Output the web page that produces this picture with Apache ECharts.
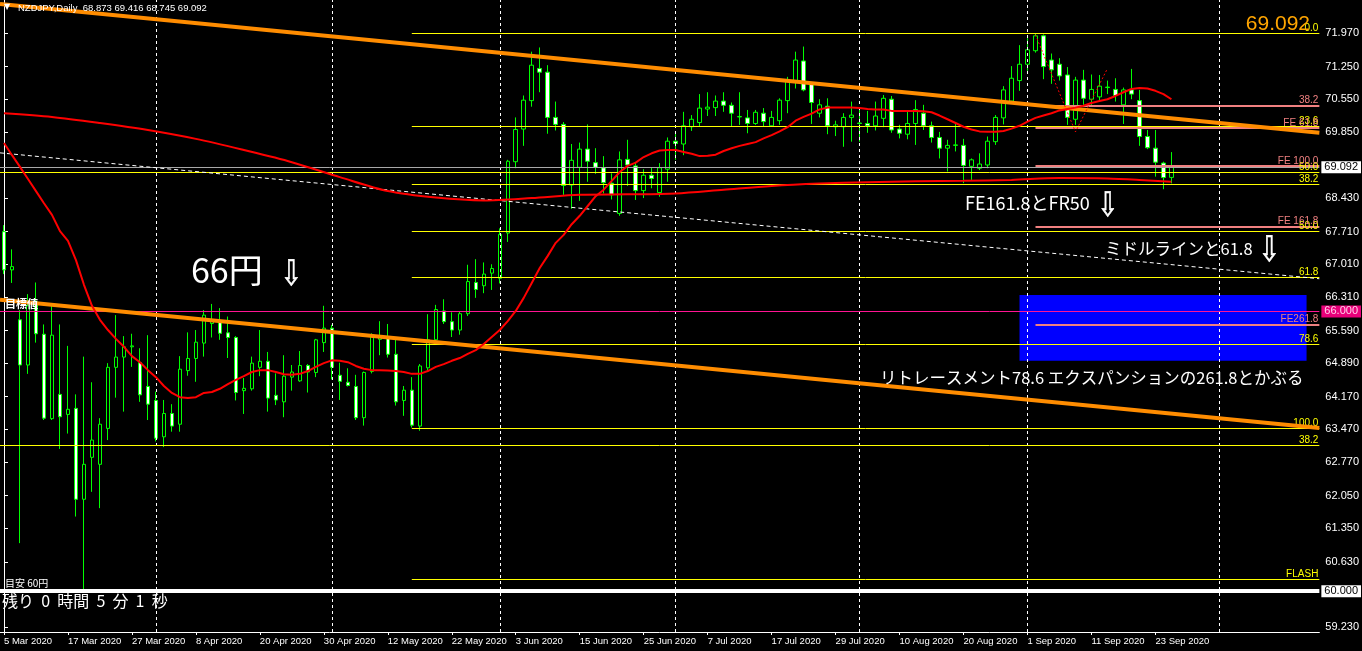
<!DOCTYPE html>
<html><head><meta charset="utf-8">
<script src="https://cdn.jsdelivr.net/npm/echarts@6/dist/echarts.min.js"></script>
<style>html,body{margin:0;padding:0;background:#000;overflow:hidden}#c{width:1362px;height:651px}</style>
</head><body><div id="c"></div>
<script>
// ---------- data ----------
const symbolTitle = 'NZDJPY,Daily';
const tickLabels = ['5 Mar 2020','17 Mar 2020','27 Mar 2020','8 Apr 2020','20 Apr 2020','30 Apr 2020','12 May 2020','22 May 2020','3 Jun 2020','15 Jun 2020','25 Jun 2020','7 Jul 2020','17 Jul 2020','29 Jul 2020','10 Aug 2020','20 Aug 2020','1 Sep 2020','11 Sep 2020','23 Sep 2020'];
const labelEvery = 8;
const totalSlots = 165;
const monthStartBars = [19,41,62,84,107,128,152];
const yTicks = [71.970,71.250,70.550,69.850,68.430,67.710,67.010,66.310,65.590,64.890,64.170,63.470,62.770,62.050,61.350,60.630,59.230];

const open = [67.71,66.89,65.82,64.85,66.21,65.51,63.70,64.22,63.79,63.92,
61.97,62.87,62.72,63.49,64.80,65.02,65.24,64.90,64.39,64.09,
63.31,63.81,63.58,64.73,64.99,65.32,65.74,65.76,65.54,65.44,
64.30,64.34,64.80,64.93,64.20,64.06,64.59,64.51,64.84,64.69,
65.33,65.64,64.63,64.48,64.39,63.72,64.71,65.40,65.44,65.08,
64.09,64.31,63.54,64.79,65.39,66.01,65.78,65.60,65.95,66.62,
66.55,66.82,66.71,67.68,69.21,69.91,70.52,71.21,71.13,70.16,
70.01,68.71,69.09,69.48,69.19,69.08,68.75,68.10,69.26,69.12,
68.59,68.92,68.55,69.05,69.65,69.59,69.96,70.05,70.34,70.37,
70.51,70.42,70.17,70.15,70.03,70.25,69.98,70.09,70.52,70.93,
71.37,70.88,70.25,70.40,69.96,69.96,70.16,70.04,70.03,69.98,
70.14,70.55,69.91,69.80,70.03,70.25,69.98,69.73,69.50,69.56,
69.56,69.11,69.07,69.14,69.64,70.15,70.51,70.95,71.30,71.59,
71.91,71.39,71.30,71.07,70.12,70.96,70.55,70.60,70.80,70.76,
70.43,70.75,70.52,69.75,69.50,69.18,68.873];
const high = [67.85,67.33,66.03,66.37,66.62,65.72,66.17,65.72,65.26,64.22,
65.03,64.48,63.71,64.89,65.92,65.47,65.52,65.21,65.49,64.28,
64.10,64.01,65.04,65.55,65.60,66.03,66.16,66.07,65.89,65.47,
64.57,65.03,65.60,65.13,64.67,65.06,64.85,65.15,64.87,65.41,
66.12,65.71,64.90,64.78,64.64,64.71,65.53,65.79,65.73,65.44,
64.40,64.59,64.87,65.94,66.14,66.26,65.98,66.00,67.00,67.12,
67.05,67.01,67.78,69.25,70.16,70.63,71.57,71.66,71.28,70.50,
70.06,69.59,69.62,70.01,69.50,69.33,68.96,69.43,69.68,69.19,
69.05,69.08,69.18,69.73,69.85,70.28,70.21,70.66,70.70,70.63,
70.70,70.48,70.70,70.32,70.32,70.36,70.30,70.57,71.03,71.57,
71.68,70.89,70.55,70.57,70.09,70.25,70.50,70.32,70.30,70.50,
70.64,70.62,70.00,70.28,70.53,70.43,70.07,69.85,69.68,70.05,
69.70,69.28,69.39,69.75,70.21,70.83,71.26,71.71,71.86,71.96,
71.94,71.53,71.43,71.24,71.03,71.18,71.08,71.07,70.95,71.00,
70.80,71.20,70.75,69.89,69.89,69.21,69.416];
const low = [66.80,66.61,61.03,64.66,65.33,63.67,63.67,63.05,63.38,61.60,
60.03,62.13,61.78,63.24,64.15,63.85,64.81,64.06,63.67,63.21,
63.09,63.42,63.42,64.62,64.49,65.03,65.44,65.39,65.00,64.09,
63.80,64.30,64.61,63.85,63.99,63.73,64.30,64.49,64.26,64.59,
65.13,64.54,64.10,64.39,63.67,63.55,64.67,65.06,65.01,63.98,
63.76,63.51,63.44,64.71,65.28,65.73,65.45,65.50,65.90,66.29,
66.39,66.46,66.60,67.49,69.07,69.55,70.39,70.70,69.81,69.88,
68.50,68.20,68.37,68.78,68.95,68.53,68.40,68.05,68.69,68.39,
68.43,68.64,68.46,68.78,69.25,69.35,69.87,69.96,70.19,70.19,
70.28,69.96,70.00,69.82,70.00,69.96,69.96,70.00,70.25,70.78,
70.72,70.02,70.16,69.80,69.76,69.53,69.64,69.64,69.83,69.88,
69.95,69.83,69.71,69.69,69.57,69.89,69.62,69.28,69.00,69.43,
68.75,68.82,69.03,69.07,69.57,70.01,70.50,70.73,71.16,71.55,
70.98,70.88,70.95,70.00,70.00,70.43,70.43,70.50,70.66,70.50,
70.02,70.55,69.55,69.48,68.89,68.62,68.745];
const close = [66.89,66.96,64.85,66.12,65.52,63.71,65.49,63.74,63.90,61.97,
62.72,63.24,63.58,64.80,65.02,65.24,65.26,64.21,64.01,63.28,
63.81,63.54,64.76,64.99,65.34,65.92,65.78,65.53,65.44,64.26,
64.35,64.89,64.93,64.14,64.10,64.61,64.70,64.84,64.70,65.39,
65.64,64.80,64.50,64.41,63.72,64.69,65.46,65.46,65.08,64.06,
64.31,63.56,64.83,65.39,66.04,65.78,65.60,65.95,66.64,66.47,
66.80,66.92,67.65,69.22,69.90,70.53,71.28,71.13,70.16,70.01,
68.70,69.24,69.48,69.22,69.09,68.76,68.50,69.25,69.14,68.59,
68.92,68.85,69.08,69.65,69.60,69.98,70.12,70.36,70.38,70.51,
70.42,70.25,70.18,70.03,70.27,70.07,70.16,70.53,70.95,71.39,
70.75,70.48,70.43,69.98,70.00,70.16,70.21,70.03,69.98,70.19,
70.57,69.89,69.82,70.03,70.33,69.98,69.73,69.50,69.56,69.57,
69.13,69.25,69.16,69.65,70.16,70.75,71.00,71.30,71.61,71.91,
71.25,71.18,71.05,70.16,70.96,70.57,70.76,70.83,70.81,70.63,
70.75,70.66,69.75,69.51,69.20,68.87,69.092];
const fastMA = [69.61,69.35,69.10,68.84,68.58,68.32,68.07,67.72,67.51,67.10,
66.57,66.12,65.82,65.60,65.41,65.24,65.04,64.91,64.74,64.59,
64.40,64.25,64.16,64.14,64.16,64.25,64.27,64.34,64.44,64.53,
64.61,64.70,64.74,64.74,64.70,64.65,64.64,64.66,64.72,64.81,
64.89,64.95,64.94,64.91,64.83,64.77,64.74,64.74,64.73,64.72,
64.70,64.66,64.66,64.72,64.81,64.87,64.94,65.00,65.09,65.17,
65.30,65.45,65.60,65.79,66.01,66.29,66.61,66.93,67.19,67.47,
67.64,67.87,68.05,68.26,68.47,68.61,68.80,68.99,69.12,69.19,
69.31,69.39,69.45,69.46,69.46,69.42,69.38,69.33,69.34,69.36,
69.44,69.50,69.55,69.59,69.63,69.71,69.78,69.86,69.95,70.09,
70.17,70.24,70.33,70.37,70.37,70.37,70.37,70.36,70.34,70.33,
70.33,70.30,70.30,70.30,70.30,70.29,70.27,70.20,70.12,70.04,
69.96,69.90,69.86,69.85,69.85,69.87,69.92,69.98,70.07,70.15,
70.20,70.25,70.31,70.34,70.37,70.41,70.47,70.51,70.55,70.62,
70.70,70.77,70.79,70.78,70.73,70.66,70.55];
const slowMA = [[0,70.25],[6,70.17],[12,70.04],[18,69.89],[24,69.70],[30,69.46],[36,69.20],[42,68.88],[48,68.58],[54,68.44],[60,68.38],[66,68.43],[72,68.50],[78,68.51],[84,68.53],[90,68.61],[96,68.69],[102,68.74],[108,68.77],[114,68.79],[120,68.80],[126,68.82],[132,68.86],[138,68.85],[142,68.82],[146,68.78]];
const upperTrend = [[-0.5,72.59],[164.5,69.83]];
const lowerTrend = [[-0.5,66.25],[164.5,63.50]];
const middleLine = [[-0.5,69.40],[164.5,66.70]];
const feAnchors = [[129,71.93],[134,69.85],[138,71.21]];
// Fibonacci retracement (yellow) drawn from bar 51
const fibStart = 51;
const fibLabels = ['0.0','23.6','38.2','50.0','61.8','78.6','100.0','FLASH'];
const fibPrices = [71.96,69.96,68.72,67.725,66.73,65.30,63.49,60.25];
// long yellow levels from the left edge
const leftFibLabels = ['50.0','38.2'];
const leftFibPrices = [68.99,63.13];
// Fibonacci expansion (salmon) drawn from bar 129
const feStart = 129;
const feLabels = ['38.2','FE 61.8','FE 100.0','FE 161.8','FE261.8'];
const fePrices = [70.415,69.93,69.12,67.82,65.72];
const targetPrice = 66.000;
const roundPrice = 60.000;
const zoneBars = [127,162.9];
const zonePrices = [66.35,64.94];

// ---------- chart ----------
const N = open.length;
const cats = [];
for (let i = 0; i < totalSlots; i++) cats.push(String(i));
const candles = open.map((o, i) => [o, close[i], low[i], high[i]]);
const lastClose = close[N - 1];
const RIGHT = totalSlots - 0.5, LEFT = -0.5;

function hLine(x0, price, color, width, type, text, tcolor) {
  return [{coord: [x0, price], lineStyle: {color: color, width: width, type: type},
           label: text ? {show: true, formatter: text, position: 'insideEndTop', color: tcolor, fontSize: 10,
                          fontFamily: 'Liberation Sans', distance: [1, 0]} : {show: false}},
          {coord: [RIGHT, price]}];
}
const levelLines = [];
fibPrices.forEach((p, k) => levelLines.push(hLine(fibStart, p, '#ffff00', 1, 'solid', fibLabels[k], '#ffff00')));
leftFibPrices.forEach((p, k) => levelLines.push(hLine(LEFT, p, '#ffff00', 1, 'solid', leftFibLabels[k], '#ffff00')));
fePrices.forEach((p, k) => levelLines.push(hLine(feStart, p, '#f08080', 2, 'solid', feLabels[k], '#f08080')));

function boxLine(price, width, bg, fg, lineColor) {
  return [{coord: [LEFT, price], lineStyle: {color: lineColor, width: width, type: 'solid'},
           label: {show: true, position: 'end', formatter: price.toFixed(3), backgroundColor: bg, color: fg,
                   fontSize: 11, fontFamily: 'Liberation Sans', padding: [1, 3, 0, 3], distance: 2}},
          {coord: [RIGHT, price]}];
}
const arrowStyle = (size) => ({text: '⇩', fill: '#fff', stroke: '#fff', lineWidth: 0.6, font: size + 'px "DejaVu Sans"'});

const font = 'Liberation Sans';
const option = {
  backgroundColor: '#000',
  animation: false,
  grid: {left: -1, right: 42, top: 0, bottom: 19, containLabel: false},
  xAxis: [{
    type: 'category', data: cats, boundaryGap: true,
    axisLine: {show: true, lineStyle: {color: '#fff', width: 1}},
    axisTick: {show: true, alignWithLabel: true, length: 3, lineStyle: {color: '#fff'},
               interval: (i) => i % labelEvery === 0 && i / labelEvery < tickLabels.length},
    axisLabel: {color: '#fff', fontSize: 9.5, fontFamily: font, align: 'left', margin: 4,
                interval: (i) => i % labelEvery === 0 && i / labelEvery < tickLabels.length,
                formatter: (v, i) => tickLabels[i / labelEvery] || ''},
    splitLine: {show: false}
  }, {
    type: 'value', min: LEFT, max: RIGHT, show: false
  }],
  yAxis: [{
    type: 'value', position: 'right', min: 59.124, max: 72.678, scale: true,
    axisLine: {show: true, lineStyle: {color: '#fff', width: 1}},
    axisTick: {show: true, customValues: yTicks, length: 4, inside: false, lineStyle: {color: '#fff'}},
    axisLabel: {customValues: yTicks, formatter: (v) => v.toFixed(3), color: '#fff', fontSize: 11, fontFamily: font, margin: 6},
    splitLine: {show: false}
  }],
  series: [
    { // month grid
      type: 'line', xAxisIndex: 1, data: [], z: 1, silent: true,
      markLine: {silent: true, symbol: ['none', 'none'], animation: false, label: {show: false},
        lineStyle: {color: '#ffffff', width: 1, type: [3, 3]},
        data: monthStartBars.map(b => ({xAxis: b}))}
    },
    { // target zone
      type: 'line', xAxisIndex: 1, data: [], z: 1, silent: true,
      markArea: {silent: true, itemStyle: {color: '#0000ff', opacity: 1},
        data: [[{coord: [zoneBars[0], zonePrices[0]]}, {coord: [zoneBars[1], zonePrices[1]]}]]}
    },
    {
      type: 'candlestick', xAxisIndex: 0, data: candles, barWidth: 4, z: 3,
      itemStyle: {color: '#000000', color0: '#ffffff', borderColor: '#00ff00', borderColor0: '#00ff00', borderWidth: 1}
    },
    { // levels
      type: 'line', xAxisIndex: 1, data: [], z: 4, silent: true,
      markLine: {silent: true, symbol: ['none', 'none'], animation: false, data: levelLines}
    },
    { // price boxes
      type: 'line', xAxisIndex: 1, data: [], z: 6, silent: true,
      markLine: {silent: true, symbol: ['none', 'none'], animation: false, data: [
        boxLine(lastClose, 1, '#ffffff', '#000000', '#a8a8a8'),
        boxLine(targetPrice, 1, '#e8007a', '#ffd0ea', '#ff1493'),
        boxLine(roundPrice, 4, '#ffffff', '#000000', '#ffffff')
      ]}
    },
    {type: 'line', xAxisIndex: 1, data: upperTrend, symbol: 'none', z: 5, lineStyle: {color: '#ff8c00', width: 4}},
    {type: 'line', xAxisIndex: 1, data: lowerTrend, symbol: 'none', z: 5, lineStyle: {color: '#ff8c00', width: 4}},
    {type: 'line', xAxisIndex: 1, data: middleLine, symbol: 'none', z: 5, lineStyle: {color: '#ffffff', width: 1, type: [4, 3]}},
    {type: 'line', xAxisIndex: 1, data: feAnchors, symbol: 'none', z: 5, lineStyle: {color: '#ff0000', width: 1, type: [2, 2]}},
    {type: 'line', xAxisIndex: 1, data: slowMA, symbol: 'none', smooth: 0.3, z: 5, lineStyle: {color: '#ff0000', width: 2}},
    {type: 'line', xAxisIndex: 0, data: fastMA, symbol: 'none', z: 5, lineStyle: {color: '#ff0000', width: 2}}
  ],
  graphic: [
    {type: 'text', left: 4, top: 3, z: 100, style: {text: '▼', fill: '#fff', font: '8px "DejaVu Sans"'}},
    {type: 'text', left: 18, top: 3, z: 100, style: {text: symbolTitle + '  ' + [open[N-1], high[N-1], low[N-1], close[N-1]].map(v => v.toFixed(3)).join(' '), fill: '#fff', font: '9.5px "Liberation Sans"'}},
    {type: 'text', right: 52, top: 14, z: 100, style: {text: lastClose.toFixed(3), fill: '#ffa500', font: '21px "Liberation Sans"'}},
    {type: 'text', left: 191, top: 253, z: 100, style: {text: '66円', fill: '#fff', font: '34px "Noto Sans CJK JP"'}},
    {type: 'text', left: 280, top: 258, scaleX: 0.74, z: 100, style: arrowStyle(35)},
    {type: 'text', left: 965, top: 194, z: 100, style: {text: 'FE161.8とFR50', fill: '#fff', font: '18px "Noto Sans CJK JP"'}},
    {type: 'text', left: 1097, top: 190, scaleX: 0.74, z: 100, style: arrowStyle(34)},
    {type: 'text', left: 1105, top: 240, z: 100, style: {text: 'ミドルラインと61.8', fill: '#fff', font: '16.5px "Noto Sans CJK JP"'}},
    {type: 'text', left: 1258, top: 234, scaleX: 0.74, z: 100, style: arrowStyle(35)},
    {type: 'text', left: 880, top: 369, z: 100, style: {text: 'リトレースメント78.6 エクスパンションの261.8とかぶる', fill: '#fff', font: '16.5px "Noto Sans CJK JP"'}},
    {type: 'text', left: 2, top: 593, z: 100, style: {text: '残り  0  時間  5  分  1  秒', fill: '#fff', font: '16px "Noto Sans CJK JP"'}},
    {type: 'text', left: 5, top: 578, z: 100, style: {text: '目安 60円', fill: '#fff', font: '10px "Noto Sans CJK JP"'}},
    {type: 'text', left: 5, top: 298, z: 100, style: {text: '目標値', fill: '#fff', font: 'bold 11px "Noto Sans CJK JP"'}}
  ]
};
const chart = echarts.init(document.getElementById('c'), null, {renderer: 'canvas'});
chart.setOption(option);
</script>
</body></html>
